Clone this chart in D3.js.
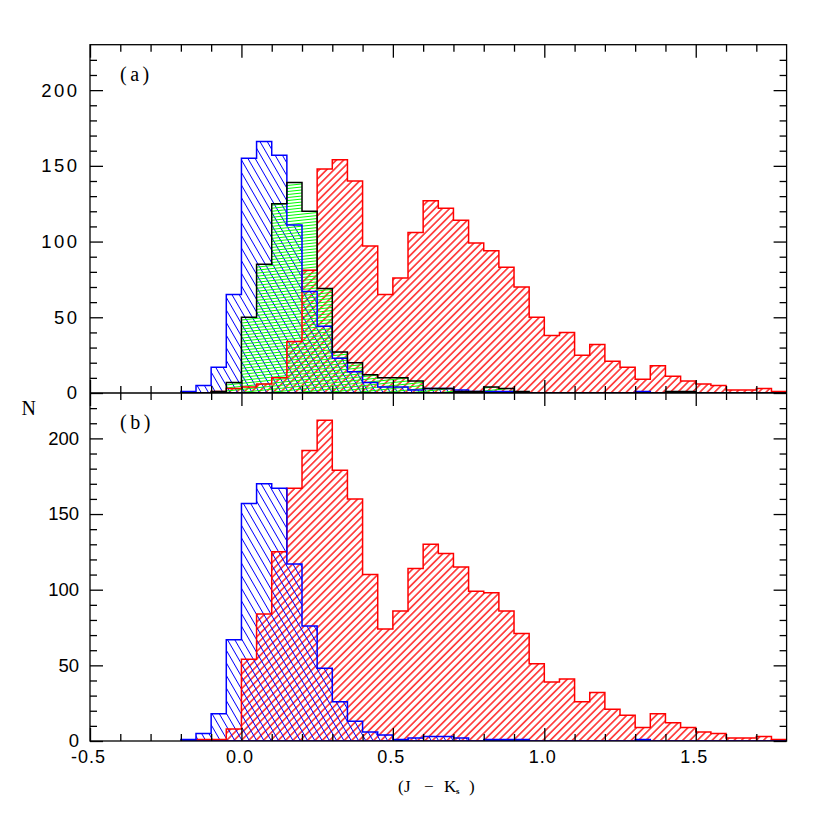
<!DOCTYPE html>
<html><head><meta charset="utf-8">
<script src="https://cdn.jsdelivr.net/npm/d3@7"></script>
<style>body{margin:0;background:#fff}</style>
</head><body>
<svg id="chart" width="830" height="830"></svg>
<script>
// ---- data ----
const binStarts = [-0.20,-0.15,-0.10,-0.05,0.00,0.05,0.10,0.15,0.20,0.25,0.30,0.35,0.40,0.45,0.50,0.55,0.60,0.65,0.70,0.75,
                   0.80,0.85,0.90,0.95,1.00,1.05,1.10,1.15,1.20,1.25,1.30,1.35,1.40,1.45,1.50,1.55,1.60,1.65,1.70,1.75];
const binWidth = 0.05;
const topBlue  = [1,5,17,65,155,166,157,111,67,44,23,14,7,4,4,2,3,3,2,1,1,1,0,0,0,0,0,0,0,0,1,0,0,0,0,0,0,0,0,0];
const topGreen = [0,0,1,7,50,85,125,139,120,69,27,20,12,10,10,8,3,3,1,1,4,3,1,0,0,0,0,0,0,0,0,0,1,1,0,0,0,0,0,0];
const topRed   = [0,0,1,3,4,6,10,34,81,148,154,140,97,65,76,106,127,122,114,99,94,83,70,50,38,40,25,32,21,17,9,18,11,8,6,5,2,2,3,1];
const botBlue  = [1,5,18,67,157,170,167,117,76,48,26,13,6,4,1,2,3,3,2,0,1,1,1,0,0,0,0,0,0,0,1,0,0,0,0,0,0,0,0,0];
const botRed   = [0,1,1,8,54,84,125,167,192,212,179,160,110,74,86,114,130,124,115,99,98,86,71,51,39,41,26,32,21,17,9,18,12,9,6,5,2,2,3,1];
const xMajorTicks  = [-0.5,0.0,0.5,1.0,1.5];
const xMajorLabels = ["-0.5","0.0","0.5","1.0","1.5"];
const xMinorTicks  = [-0.4,-0.3,-0.2,-0.1,0.1,0.2,0.3,0.4,0.6,0.7,0.8,0.9,1.1,1.2,1.3,1.4,1.6,1.7];
const yMajorTicks  = [0,50,100,150,200];
const yMinorTicks  = [10,20,30,40,60,70,80,90,110,120,130,140,160,170,180,190,210,220];

// ---- layout ----
const L = 90, R = 786.6, T = 44.7, M = 393, B = 741;
const svg = d3.select("#chart");
const x = d3.scaleLinear().domain([-0.5, 1.8]).range([L, R]);
const yTop = d3.scaleLinear().domain([0, 230]).range([M, T]);
const yBot = d3.scaleLinear().domain([0, 230]).range([B, M]);

const defs = svg.append("defs");
function hatch(id, color, spacing, angle, width) {
  const p = defs.append("pattern").attr("id", id).attr("patternUnits", "userSpaceOnUse")
    .attr("width", 40).attr("height", spacing).attr("patternTransform", `rotate(${angle})`);
  p.append("line").attr("x1", 0).attr("x2", 40).attr("y1", spacing / 2).attr("y2", spacing / 2)
    .attr("stroke", color).attr("stroke-width", width);
}
hatch("hRed", "#ff0000", 5.2, -45, 1.1);
hatch("hBlue", "#0000ff", 6.3, 60, 1.1);
hatch("hGreen", "#00ff00", 3, -6, 1);

defs.append("clipPath").attr("id", "clipTop").append("rect").attr("x", L).attr("y", T).attr("width", R - L).attr("height", M - T);
defs.append("clipPath").attr("id", "clipBot").append("rect").attr("x", L).attr("y", M).attr("width", R - L).attr("height", B - M);

function stepPath(values, y) {
  const pts = [[x(binStarts[0]), y(0)]];
  values.forEach((v, i) => {
    pts.push([x(binStarts[i]), y(v)]);
    pts.push([x(binStarts[i] + binWidth), y(v)]);
  });
  pts.push([x(binStarts[binStarts.length - 1] + binWidth), y(0)]);
  return d3.line()(pts) + "Z";
}

function panel(clip, y, series) {
  const g = svg.append("g").attr("clip-path", `url(#${clip})`);
  series.forEach(s => g.append("path").attr("d", stepPath(s.values, y)).attr("fill", `url(#${s.pattern})`).attr("stroke", "none"));
  series.forEach(s => g.append("path").attr("d", stepPath(s.values, y)).attr("fill", "none")
    .attr("stroke", s.stroke).attr("stroke-width", 1.5).attr("stroke-linejoin", "miter"));
}
panel("clipTop", yTop, [
  {values: topRed, pattern: "hRed", stroke: "#ff0000"},
  {values: topBlue, pattern: "hBlue", stroke: "#0000ff"},
  {values: topGreen, pattern: "hGreen", stroke: "#000000"}
]);
panel("clipBot", yBot, [
  {values: botRed, pattern: "hRed", stroke: "#ff0000"},
  {values: botBlue, pattern: "hBlue", stroke: "#0000ff"}
]);

// ---- axes ----
function styleAxis(g) {
  g.select(".domain").remove();
  g.selectAll(".tick line").attr("stroke", "#000").attr("stroke-width", 1.3);
}
function addAxis(axisFn, scale, ticks, size, tx, ty, fmt, pad) {
  const a = axisFn(scale).tickValues(ticks).tickSize(size).tickPadding(pad || 3).tickFormat(fmt || (() => ""));
  const g = svg.append("g").attr("transform", `translate(${tx},${ty})`).call(a);
  styleAxis(g);
  return g;
}
// x ticks: top of top panel, middle (both sides), bottom of bottom panel
addAxis(d3.axisTop, x, xMajorTicks, -13, 0, T);
addAxis(d3.axisTop, x, xMinorTicks, -7, 0, T);
addAxis(d3.axisBottom, x, xMajorTicks, -13, 0, M);
addAxis(d3.axisBottom, x, xMinorTicks, -7, 0, M);
addAxis(d3.axisTop, x, xMajorTicks, -13, 0, M);
addAxis(d3.axisTop, x, xMinorTicks, -7, 0, M);
const xb = addAxis(d3.axisBottom, x, xMajorTicks, -13, 0, B, (d, i) => xMajorLabels[i], 9);
addAxis(d3.axisBottom, x, xMinorTicks, -7, 0, B);
xb.selectAll("text").attr("font-family", "'Liberation Sans', Arial, sans-serif").attr("font-size", 18)
  .attr("letter-spacing", 1).attr("fill", "#000").attr("dx", -2);

// y ticks
const ytl = addAxis(d3.axisLeft, yTop, yMajorTicks, -13, L, 0, d => String(d), 10.5);
addAxis(d3.axisLeft, yTop, yMinorTicks, -7, L, 0);
addAxis(d3.axisRight, yTop, yMajorTicks, -13, R, 0);
addAxis(d3.axisRight, yTop, yMinorTicks, -7, R, 0);
ytl.selectAll("text").attr("font-family", "'Liberation Sans', Arial, sans-serif").attr("font-size", 18.5)
  .attr("letter-spacing", 2.5).attr("fill", "#000");
const ybl = addAxis(d3.axisLeft, yBot, yMajorTicks, -13, L, 0, d => String(d), 11);
addAxis(d3.axisLeft, yBot, yMinorTicks, -7, L, 0);
addAxis(d3.axisRight, yBot, yMajorTicks, -13, R, 0);
addAxis(d3.axisRight, yBot, yMinorTicks, -7, R, 0);
ybl.selectAll("text").attr("font-family", "'Liberation Sans', Arial, sans-serif").attr("font-size", 18.5)
  .attr("fill", "#000");

// frame
svg.append("rect").attr("x", L).attr("y", T).attr("width", R - L).attr("height", B - T)
  .attr("fill", "none").attr("stroke", "#000").attr("stroke-width", 1.3);
svg.append("line").attr("x1", L).attr("x2", R).attr("y1", M).attr("y2", M).attr("stroke", "#000").attr("stroke-width", 1.3);

// ---- text ----
const serif = "'Liberation Serif', 'Times New Roman', serif";
svg.append("text").attr("x", 120).attr("y", 81).attr("font-family", serif).attr("font-size", 20)
  .attr("letter-spacing", 3.5).text("(a)");
svg.append("text").attr("x", 120).attr("y", 429).attr("font-family", serif).attr("font-size", 20)
  .attr("letter-spacing", 3.5).text("(b)");
svg.append("text").attr("x", 21.5).attr("y", 415).attr("font-family", serif).attr("font-size", 20).text("N");

const xt = svg.append("text").attr("y", 792).attr("font-family", serif).attr("font-size", 17);
xt.append("tspan").attr("x", 398).text("(");
xt.append("tspan").attr("x", 404).text("J");
xt.append("tspan").attr("x", 424).text("\u2212");
xt.append("tspan").attr("x", 444).text("K");
xt.append("tspan").attr("x", 456).attr("y", 794).attr("font-size", 9).attr("font-weight", "bold").text("s");
xt.append("tspan").attr("x", 469).attr("y", 792).text(")");
</script>
</body></html>
